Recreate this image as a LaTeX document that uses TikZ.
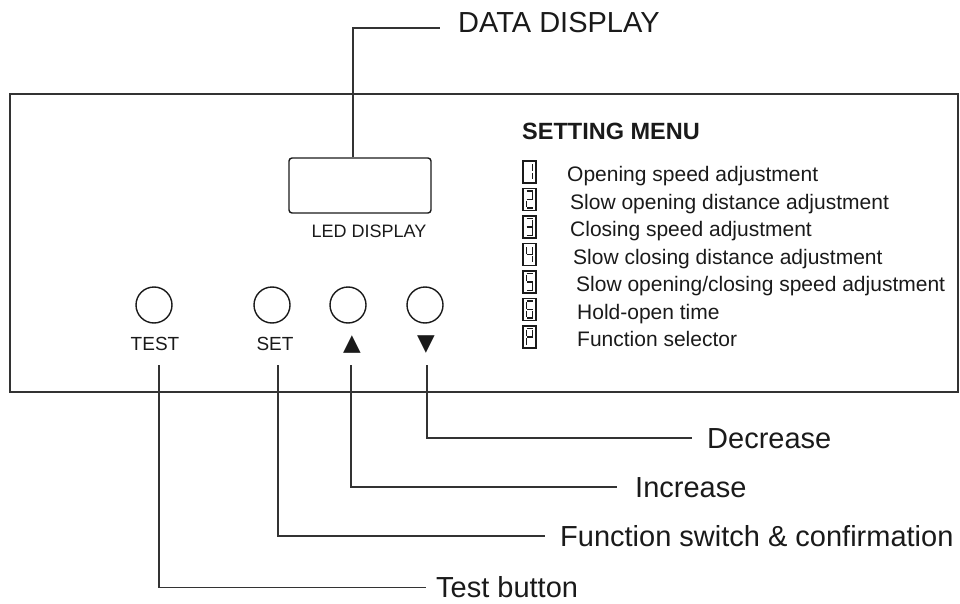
\documentclass[tikz,border=0pt]{standalone}
\usepackage{fontspec}
\setmainfont{Liberation Sans}
\newfontfamily\symfont{DejaVu Sans}
\definecolor{ink}{HTML}{1A1A1A}
\definecolor{linec}{HTML}{333333}
\begin{document}
\begin{tikzpicture}[x=1pt,y=-1pt,
  panel/.style={draw=linec,line width=1.6pt},
  leader/.style={draw=linec,line width=1.2pt},
  biglabel/.style={font=\fontsize{29}{34}\selectfont,text=ink,inner sep=0pt,anchor=base west},
  menutitle/.style={font=\fontsize{23.5}{28}\selectfont\bfseries,text=ink,inner sep=0pt,anchor=base west},
  menuitem/.style={font=\fontsize{21}{25}\selectfont,text=ink,inner sep=0pt,anchor=base west},
  smalllabel/.style={font=\fontsize{19}{23}\selectfont,text=ink,inner sep=0pt,anchor=base},
  button/.style={draw=ink,line width=1.4pt,circle,minimum size=36pt,inner sep=0pt},
  iconbox/.style={draw=ink,line width=1.3pt,minimum width=13pt,minimum height=22pt,inner sep=0pt},
  seg/.style={draw=ink,line width=1.3pt},
  sa/.pic={\draw[seg] (-3,-8.5)--(3,-8.5);},
  sb/.pic={\draw[seg] (3,-7.5)--(3,-1);},
  sc/.pic={\draw[seg] (3,1)--(3,7.5);},
  sd/.pic={\draw[seg] (-3,8.5)--(3,8.5);},
  se/.pic={\draw[seg] (-3,1)--(-3,7.5);},
  sf/.pic={\draw[seg] (-3,-7.5)--(-3,-1);},
  sg/.pic={\draw[seg] (-3,0)--(3,0);}
]
\useasboundingbox (0,0) rectangle (960,604);

% panel
\draw[panel] (10,94) rectangle (958,392);

% LED display
\node[draw=ink,line width=1.4pt,rounded corners=3pt,minimum width=142pt,minimum height=55pt,inner sep=0pt] (led) at (360,185.5) {};
\node[smalllabel,font=\fontsize{18}{22}\selectfont] (ledlbl) at (369,237) {LED DISPLAY};
\node[biglabel] (datalbl) at (458,33) {DATA DISPLAY};
\coordinate (dataend) at (440,28);
\draw[leader] (led.north -| 353,0) |- (dataend);

% setting menu
\node[menutitle] (menu) at (522,140) {SETTING MENU};
\foreach \i/\txt/\tx/\segs in {
  0/Opening speed adjustment/567/{sb,sc},
  1/Slow opening distance adjustment/570/{sa,sb,sg,se,sd},
  2/Closing speed adjustment/570/{sa,sb,sg,sc,sd},
  3/Slow closing distance adjustment/573/{sf,sg,sb,sc},
  4/Slow opening\slash closing speed adjustment/576/{sa,sf,sg,sc,sd},
  5/Hold-open time/577/{sa,sf,sg,se,sc,sd},
  6/Function selector/577/{sa,sb,sf,sg,se}}{
  \pgfmathsetmacro\cy{172+27.5*\i}
  \node[iconbox] (icon\i) at (529.5,\cy) {};
  \foreach \s in \segs {\pic at (529.5,\cy) {\s};}
  \node[menuitem] (item\i) at (\tx,\cy+9.5) {\txt};
}

% buttons
\node[button] (btntest) at (154,305) {};
\node[button] (btnset) at (272,305) {};
\node[button] (btnup) at (348,305) {};
\node[button] (btndown) at (425,305) {};
\node[smalllabel] (lbltest) at (155,350) {TEST};
\node[smalllabel] (lblset) at (275,350) {SET};
\node[smalllabel,font=\fontsize{23}{26}\symfont] (lblup) at (352,350) {▲};
\node[smalllabel,font=\fontsize{23}{26}\symfont] (lbldown) at (426,350) {▼};

% leader start points
\coordinate (stest) at (159,365);
\coordinate (sset) at (278,365);
\coordinate (sup) at (351,365);
\coordinate (sdown) at (427,365);

\node[biglabel] (tdec) at (707,448) {Decrease};
\node[biglabel] (tinc) at (635,497) {Increase};
\node[biglabel] (tfun) at (560,546.5) {Function switch \& confirmation};
\node[biglabel] (ttest) at (436,597.5) {Test button};

\coordinate (edec) at (692,438);
\coordinate (einc) at (617,487);
\coordinate (efun) at (545,536);
\coordinate (etest) at (426,587.5);

\draw[leader] (sdown) |- (edec);
\draw[leader] (sup) |- (einc);
\draw[leader] (sset) |- (efun);
\draw[leader] (stest) |- (etest);
\end{tikzpicture}
\end{document}
